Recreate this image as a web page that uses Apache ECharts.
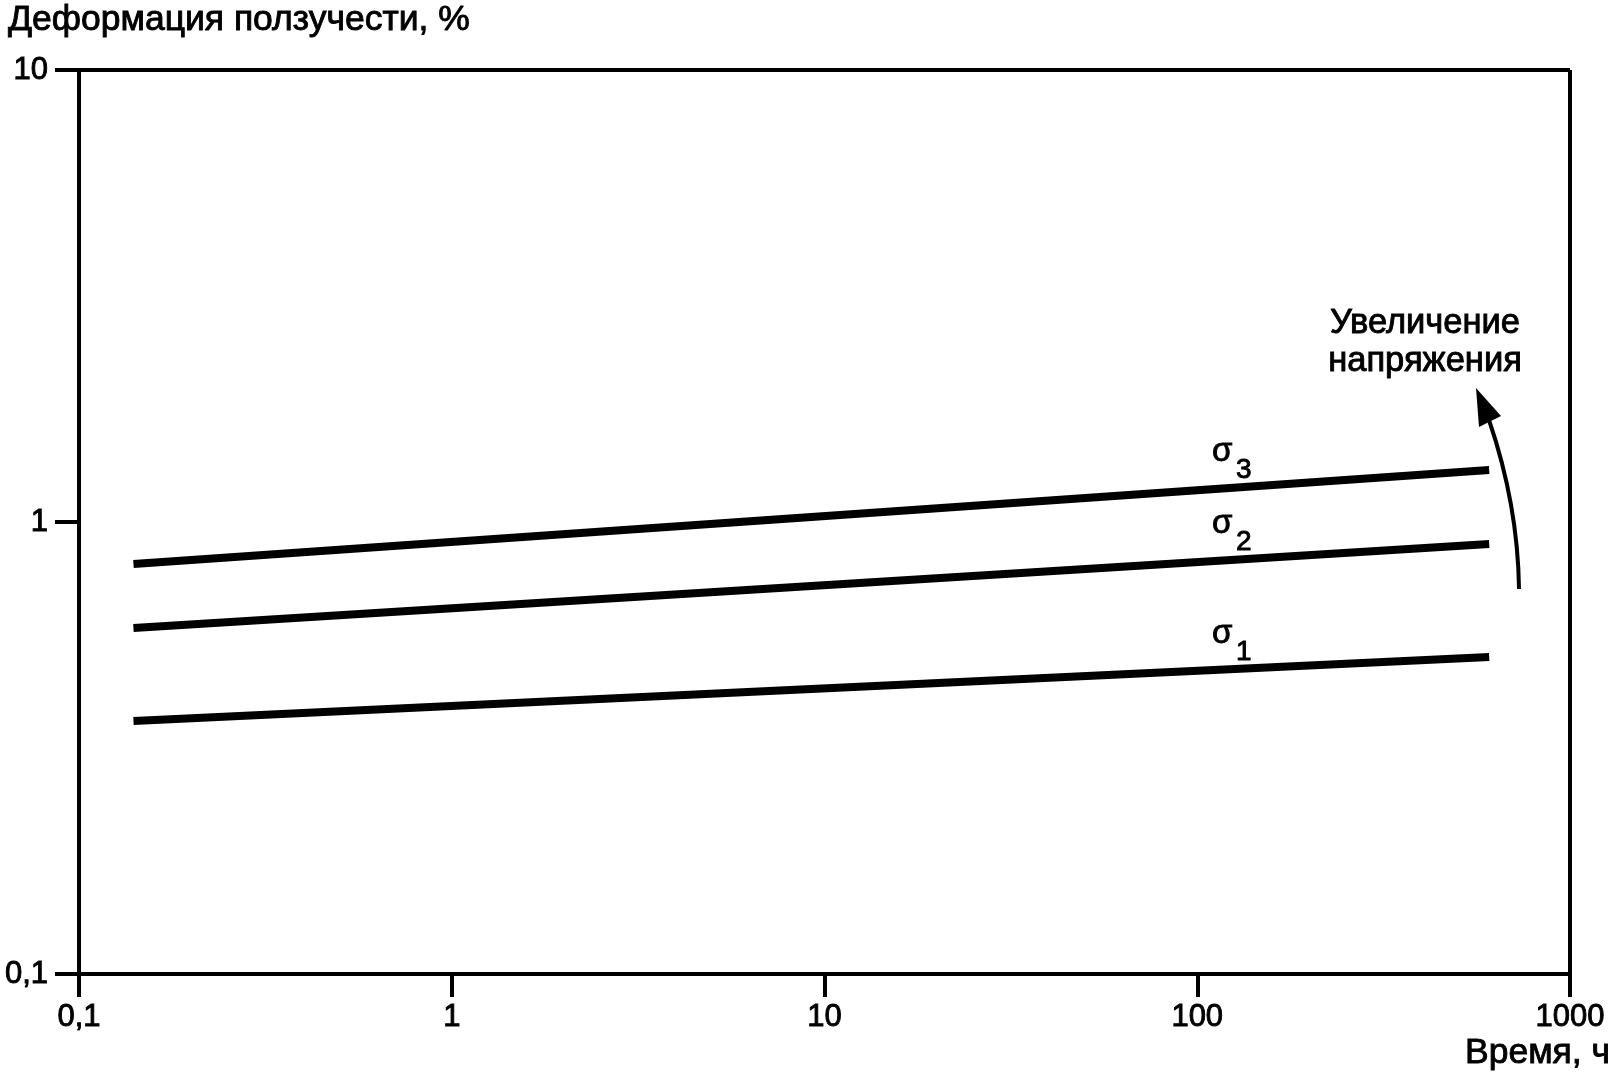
<!DOCTYPE html>
<html>
<head>
<meta charset="utf-8">
<script src="https://cdn.jsdelivr.net/npm/echarts@6/dist/echarts.min.js"></script>
<style>
  html, body { margin: 0; padding: 0; background: #fff; }
  #chart { width: 1611px; height: 1078px; }
</style>
</head>
<body>
<div id="chart"></div>
<script>
// time, h (start and end of each straight creep line on the log-log plot)
const times = [0.14, 607];
const sigma1 = [0.363, 0.503];
const sigma2 = [0.583, 0.894];
const sigma3 = [0.807, 1.303];
const xTicks = [0.1, 1, 10, 100, 1000];
const yTicks = [0.1, 1, 10];

const font = "Liberation Sans, Arial, sans-serif";
const fmt = (v) => String(v).replace(".", ",");

const chart = echarts.init(document.getElementById("chart"));

const line = (name, vals) => ({
  name: name,
  type: "line",
  data: times.map((t, i) => [t, vals[i]]),
  symbol: "none",
  lineStyle: { color: "#000", width: 8, cap: "butt" },
  silent: true,
});

const txt = (text, x, y, size, align) => ({
  type: "text",
  x: x,
  y: y,
  style: {
    text: text,
    fontFamily: font,
    fontSize: size,
    fill: "#000",
    stroke: "#000",
    lineWidth: 0.9,
    align: align || "left",
    verticalAlign: "middle",
  },
});

chart.setOption({
  animation: false,
  grid: { left: 79, right: 41, top: 70, bottom: 104 },
  xAxis: {
    type: "log",
    logBase: 10,
    min: 0.1,
    max: 1000,
    axisLine: { lineStyle: { color: "#000", width: 4 } },
    axisTick: { show: true, length: 23, lineStyle: { color: "#000", width: 4 } },
    splitLine: { show: false },
    axisLabel: {
      color: "#000",
      fontFamily: font,
      fontSize: 31,
      margin: 28,
      textBorderColor: "#000",
      textBorderWidth: 0.9,
      formatter: (v) => (xTicks.includes(v) ? fmt(v) : ""),
    },
  },
  yAxis: {
    type: "log",
    logBase: 10,
    min: 0.1,
    max: 10,
    axisLine: { lineStyle: { color: "#000", width: 4 } },
    axisTick: { show: true, length: 24, lineStyle: { color: "#000", width: 4 } },
    splitLine: { show: false },
    axisLabel: {
      color: "#000",
      fontFamily: font,
      fontSize: 31,
      margin: 31,
      textBorderColor: "#000",
      textBorderWidth: 0.9,
      formatter: (v) => (yTicks.includes(v) ? fmt(v) : ""),
    },
  },
  series: [line("σ1", sigma1), line("σ2", sigma2), line("σ3", sigma3)],
  graphic: [
    // top and right sides of the frame
    { type: "line", shape: { x1: 79, y1: 70, x2: 1570, y2: 70 }, style: { stroke: "#000", lineWidth: 4 } },
    { type: "line", shape: { x1: 1570, y1: 70, x2: 1570, y2: 974 }, style: { stroke: "#000", lineWidth: 4 } },
    txt("Деформация ползучести, %", 8, 20, 35.5),
    txt("Время, ч", 1610, 1053, 35.5, "right"),
    txt("σ", 1212, 452, 33), txt("3", 1236, 470, 28),
    txt("σ", 1212, 524, 33), txt("2", 1236, 542, 28),
    txt("σ", 1212, 634, 33), txt("1", 1236, 652, 28),
    txt("Увеличение", 1425, 323, 34.5, "center"),
    txt("напряжения", 1425, 361, 34.5, "center"),
    {
      type: "bezierCurve",
      shape: { x1: 1519, y1: 589, cpx1: 1518, cpy1: 505, x2: 1489, y2: 420 },
      style: { stroke: "#000", lineWidth: 4, fill: null },
    },
    {
      type: "polygon",
      shape: { points: [[1476, 388], [1501, 416], [1479, 427]] },
      style: { fill: "#000" },
    },
  ],
});
</script>
</body>
</html>
